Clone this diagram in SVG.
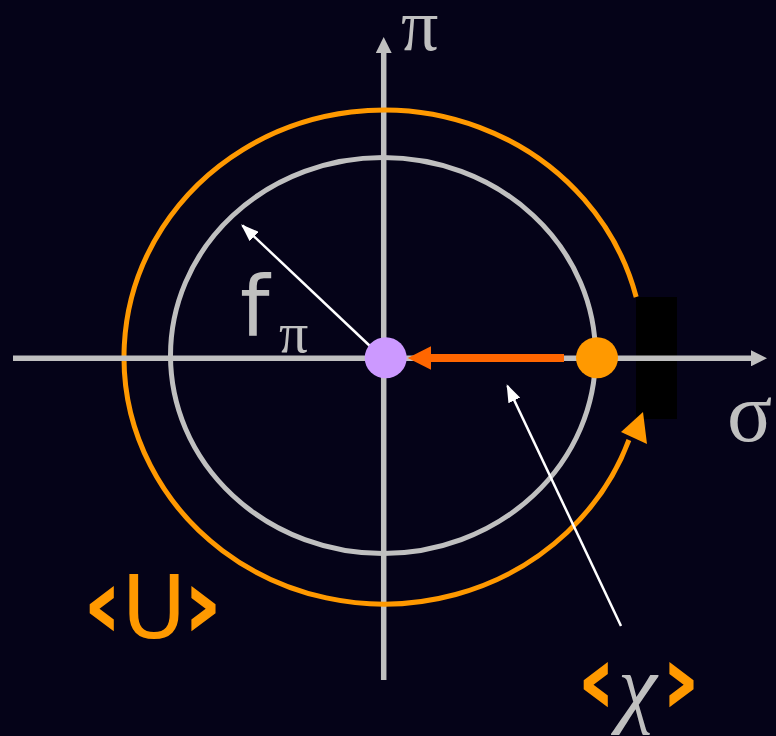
<svg xmlns="http://www.w3.org/2000/svg" width="776" height="736" viewBox="0 0 776 736">
<style>
.ax{stroke:#C0C0C0;stroke-width:5.5;fill:none}
.gr{stroke:#C0C0C0;stroke-width:5;fill:none}
.og{stroke:#FF9900;stroke-width:5;fill:none}
.wl{stroke:#FFFFFF;stroke-width:2.5;fill:none}
.sym{font-family:"Liberation Serif","Times New Roman",serif;fill:#C0C0C0}
.lab{font-family:"DejaVu Sans",Verdana,sans-serif;fill:#FF9900}
.br{font-weight:bold;font-size:100px}
</style>
<defs>
<marker id="axh" markerUnits="userSpaceOnUse" viewBox="0 0 16 16" refX="4" refY="8" markerWidth="16" markerHeight="16" orient="auto">
<path d="M0,0 L16,8 L0,16 z" fill="#C0C0C0"/>
</marker>
<marker id="wh" markerUnits="userSpaceOnUse" viewBox="0 0 18 13" refX="16" refY="6.5" markerWidth="18" markerHeight="13" orient="auto">
<path d="M0,0 L18,6.5 L0,13 z" fill="#FFFFFF"/>
</marker>
</defs>
<rect width="776" height="736" fill="#050318"/>
<g id="axis-pi"><line class="ax" x1="383.7" y1="680" x2="383.7" y2="49" marker-end="url(#axh)"/></g>
<g id="circle-fpi"><ellipse class="gr" cx="383" cy="355.5" rx="212.5" ry="198"/></g>
<g id="circle-U"><path class="og" d="M636.2,297 A260,247 0 1,0 628.9,440"/></g>
<g id="gap"><rect x="636" y="297" width="41" height="122" fill="#000000"/></g>
<g id="circle-U-head"><polygon points="643,412 621,432 647,444" fill="#FF9900"/></g>
<g id="axis-sigma"><line class="ax" x1="13" y1="358.3" x2="755" y2="358.3" marker-end="url(#axh)"/></g>
<g id="connectors">
<line x1="564" y1="358" x2="430" y2="358" stroke="#FF6600" stroke-width="8"/>
<polygon points="407.7,358 431,346.3 431,369.7" fill="#FF6600"/>
<line class="wl" x1="371" y1="347" x2="242.5" y2="225.5" marker-end="url(#wh)"/>
<line class="wl" x1="621" y1="626" x2="507.5" y2="386" marker-end="url(#wh)"/>
</g>
<g id="vacuum-true"><ellipse cx="385.7" cy="357.8" rx="21" ry="20.5" fill="#CC99FF"/></g>
<g id="vacuum-false"><ellipse cx="597" cy="357.8" rx="21" ry="20.5" fill="#FF9900"/></g>
<g id="labels">
<text class="sym" x="401" y="50" font-size="74">π</text>
<text class="sym" x="727" y="441" font-size="84">σ</text>
<text x="240" y="336" font-size="84" font-family="DejaVu Sans, Verdana, sans-serif" fill="#C0C0C0">f<tspan class="sym" x="279" y="352" font-size="58">π</tspan></text>
<text class="lab" y="638" font-size="88"><tspan class="br" x="82">‹</tspan><tspan x="121.7">U</tspan><tspan class="br" x="182">›</tspan></text>
<text class="lab" y="714" font-size="88"><tspan class="br" x="576">‹</tspan><tspan class="sym" x="618" y="716" fill="#FF9900" font-style="italic">χ</tspan><tspan class="br" x="660" y="714">›</tspan></text>
</g>
</svg>
